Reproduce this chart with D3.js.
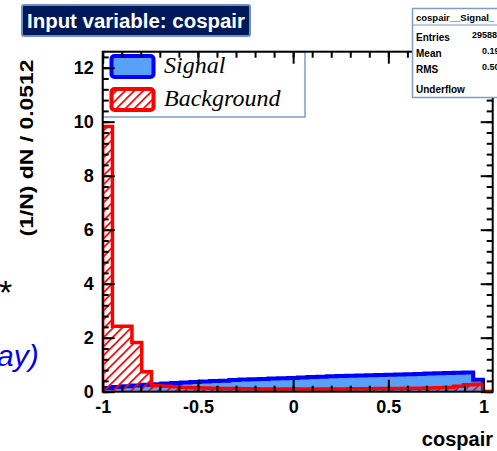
<!DOCTYPE html>
<html>
<head>
<meta charset="utf-8">
<script src="https://cdn.jsdelivr.net/npm/d3@7"></script>
<style>
  body { margin: 0; background: #fff; }
  svg { display: block; }
</style>
</head>
<body>
<script>
// bins of 0.0512 starting at -1 (40 bins)
var binStart = -1, binWidth = 0.0512;
var signalValues = [0.14, 0.17, 0.20, 0.23, 0.26, 0.28, 0.30, 0.32, 0.34, 0.36,
                    0.38, 0.40, 0.41, 0.43, 0.45, 0.46, 0.47, 0.49, 0.50, 0.51,
                    0.53, 0.54, 0.55, 0.57, 0.58, 0.59, 0.60, 0.61, 0.62, 0.63,
                    0.64, 0.65, 0.66, 0.67, 0.68, 0.69, 0.70, 0.71, 0.44, 0.00];
var backgroundValues = [9.82, 2.42, 2.42, 1.82, 0.74, 0.22, 0.20, 0.18, 0.16, 0.15,
                        0.14, 0.13, 0.12, 0.12, 0.11, 0.11, 0.10, 0.10, 0.10, 0.10,
                        0.10, 0.10, 0.10, 0.10, 0.10, 0.11, 0.11, 0.11, 0.12, 0.12,
                        0.12, 0.13, 0.13, 0.14, 0.15, 0.16, 0.20, 0.26, 0.28, 0.00];
var xMajorTicks = [-1, -0.5, 0, 0.5, 1];
var yMajorTicks = [0, 2, 4, 6, 8, 10, 12];
var legendLabels = ["Signal", "Background"];
var statsRows = [["Entries", "29588"], ["Mean", "0.1906"], ["RMS", "0.5073"], ["Underflow", ""]];

var W = 497, H = 451;
var svg = d3.select("body").append("svg").attr("width", W).attr("height", H);

var defs = svg.append("defs");
var hatch = defs.append("pattern")
    .attr("id", "hatch").attr("patternUnits", "userSpaceOnUse")
    .attr("width", 9).attr("height", 9);
hatch.append("path")
    .attr("d", "M-2,2 l4,-4 M0,9 l9,-9 M7,11 l4,-4")
    .attr("stroke", "#ff0000").attr("stroke-width", 1.6);

// plot frame (pixels)
var frame = {left: 102.7, right: 492.7, top: 51.7, bottom: 391.7};
var x = d3.scaleLinear().domain([binStart, binStart + 40 * binWidth]).range([frame.left, frame.right]);
var y = d3.scaleLinear().domain([0, (frame.bottom - frame.top) / 27]).range([frame.bottom, frame.top]);

defs.append("clipPath").attr("id", "plotclip")
  .append("rect").attr("x", frame.left).attr("y", frame.top)
    .attr("width", frame.right - frame.left).attr("height", frame.bottom - frame.top);

function stepPoints(values) {
    var pts = [[x(binStart), y(0)]];
    values.forEach(function(v, i) {
        pts.push([x(binStart + i * binWidth), y(v)]);
        pts.push([x(binStart + (i + 1) * binWidth), y(v)]);
    });
    pts.push([x(binStart + values.length * binWidth), y(0)]);
    return pts;
}
var line = d3.line();

// legend box (drawn under the frame)
svg.append("rect")
    .attr("x", frame.left).attr("y", frame.top).attr("width", 305 - frame.left).attr("height", 117 - frame.top)
    .attr("fill", "#fff").attr("stroke", "#7b9ccc").attr("stroke-width", 1.5);

var plot = svg.append("g").attr("clip-path", "url(#plotclip)");

plot.append("path")
    .attr("d", line(stepPoints(signalValues)))
    .attr("fill", "#58a0f8").attr("stroke", "#0000ff").attr("stroke-width", 4)
    .attr("stroke-linejoin", "miter");

plot.append("path")
    .attr("d", line(stepPoints(backgroundValues)))
    .attr("fill", "url(#hatch)").attr("stroke", "#ff0000").attr("stroke-width", 3.5);

// legend entries
var leg = svg.append("g");
legendLabels.forEach(function(name, i) {
    var yy = 56 + i * 33;
    leg.append("rect")
        .attr("x", 111.5).attr("y", yy).attr("width", 42).attr("height", 21)
        .attr("rx", 3)
        .attr("fill", i == 0 ? "#58a0f8" : "url(#hatch)")
        .attr("stroke", i == 0 ? "#0000ff" : "#ff0000")
        .attr("stroke-width", 4);
    leg.append("text")
        .attr("x", 164).attr("y", yy + 17)
        .style("font-family", "'Liberation Serif', 'DejaVu Serif', serif")
        .style("font-style", "italic").style("font-size", "24px")
        .text(name);
});

// axes, ROOT style ticks pointing inward
var fontAxis = "'Liberation Sans', Arial, Helvetica, sans-serif";
var xMinor = d3.range(-10, 11).map(function(d) { return d / 10; });
var yMinor = d3.range(0, 32).map(function(d) { return d * 0.4; }).filter(function(d) { return y(d) > frame.top + 1; });

function styleAxis(g) {
    g.select(".domain").remove();
    g.selectAll("line").attr("stroke", "#000").attr("stroke-width", 2);
    g.selectAll("text").style("font-family", fontAxis).style("font-weight", "bold")
        .style("font-size", "18px").attr("fill", "#000");
}

svg.append("g").attr("transform", "translate(0," + frame.bottom + ")")
    .call(d3.axisBottom(x).tickValues(xMinor).tickSize(-6).tickFormat("")).call(styleAxis);
svg.append("g").attr("transform", "translate(0," + frame.bottom + ")")
    .call(d3.axisBottom(x).tickValues(xMajorTicks).tickSize(-12).tickPadding(8.5)
        .tickFormat(function(d) { return String(d); }))
    .call(styleAxis);
svg.append("g").attr("transform", "translate(0," + frame.top + ")")
    .call(d3.axisTop(x).tickValues(xMinor).tickSize(-6).tickFormat("")).call(styleAxis);
svg.append("g").attr("transform", "translate(0," + frame.top + ")")
    .call(d3.axisTop(x).tickValues(xMajorTicks).tickSize(-12).tickFormat("")).call(styleAxis);

svg.append("g").attr("transform", "translate(" + frame.left + ",0)")
    .call(d3.axisLeft(y).tickValues(yMinor).tickSize(-6).tickFormat("")).call(styleAxis);
svg.append("g").attr("transform", "translate(" + frame.left + ",0)")
    .call(d3.axisLeft(y).tickValues(yMajorTicks).tickSize(-12).tickPadding(9).tickFormat(d3.format("d")))
    .call(styleAxis);
svg.append("g").attr("transform", "translate(" + frame.right + ",0)")
    .call(d3.axisRight(y).tickValues(yMinor).tickSize(-6).tickFormat("")).call(styleAxis);
svg.append("g").attr("transform", "translate(" + frame.right + ",0)")
    .call(d3.axisRight(y).tickValues(yMajorTicks).tickSize(-12).tickFormat("")).call(styleAxis);

svg.append("rect")
    .attr("x", frame.left).attr("y", frame.top)
    .attr("width", frame.right - frame.left).attr("height", frame.bottom - frame.top)
    .attr("fill", "none").attr("stroke", "#000").attr("stroke-width", 2);

// axis titles
svg.append("text")
    .attr("x", 493).attr("y", 446)
    .style("text-anchor", "end")
    .style("font-family", fontAxis).style("font-weight", "bold").style("font-size", "20px")
    .text("cospair");

svg.append("text")
    .attr("transform", "translate(33,148) rotate(-90)")
    .style("text-anchor", "middle")
    .style("font-family", fontAxis).style("font-weight", "bold").style("font-size", "18px")
    .attr("textLength", 177).attr("lengthAdjust", "spacingAndGlyphs")
    .text("(1/N) dN / 0.0512");

// title box
svg.append("rect")
    .attr("x", 22).attr("y", 5).attr("width", 228).attr("height", 31).attr("rx", 2)
    .attr("fill", "#00195a").attr("stroke", "#6f8fc4").attr("stroke-width", 2);
svg.append("text")
    .attr("x", 27).attr("y", 28)
    .attr("fill", "#fff")
    .style("font-family", fontAxis).style("font-weight", "bold").style("font-size", "20px")
    .attr("textLength", 218).attr("lengthAdjust", "spacingAndGlyphs")
    .text("Input variable: cospair");

// stats box
svg.append("rect")
    .attr("x", 412.5).attr("y", 8.5).attr("width", 100).attr("height", 89)
    .attr("fill", "#fff").attr("stroke", "#7f9cc8").attr("stroke-width", 1.5);
svg.append("line")
    .attr("x1", 412.5).attr("x2", 497).attr("y1", 25).attr("y2", 25)
    .attr("stroke", "#7f9cc8").attr("stroke-width", 1.2);
svg.append("text")
    .attr("x", 416).attr("y", 21)
    .style("font-family", fontAxis).style("font-weight", "bold").style("font-size", "9.5px")
    .text("cospair__Signal_");
statsRows.forEach(function(r, i) {
    var yy = [41, 57, 73, 93][i];
    svg.append("text")
        .attr("x", 416).attr("y", yy)
        .style("font-family", fontAxis).style("font-weight", "bold").style("font-size", "10px")
        .text(r[0]);
    svg.append("text")
        .attr("x", i == 0 ? 472 : 482).attr("y", yy - 3)
        .style("font-family", fontAxis).style("font-weight", "bold").style("font-size", "9px")
        .text(r[1]);
});

// fragments of the surrounding slide
svg.append("text")
    .attr("x", -1).attr("y", 304)
    .style("font-family", fontAxis).style("font-size", "34px")
    .text("*");
svg.append("text")
    .attr("x", -3).attr("y", 366)
    .attr("fill", "#0000ee")
    .style("font-family", fontAxis).style("font-style", "italic").style("font-size", "30px")
    .text("ay)");
</script>
</body>
</html>
